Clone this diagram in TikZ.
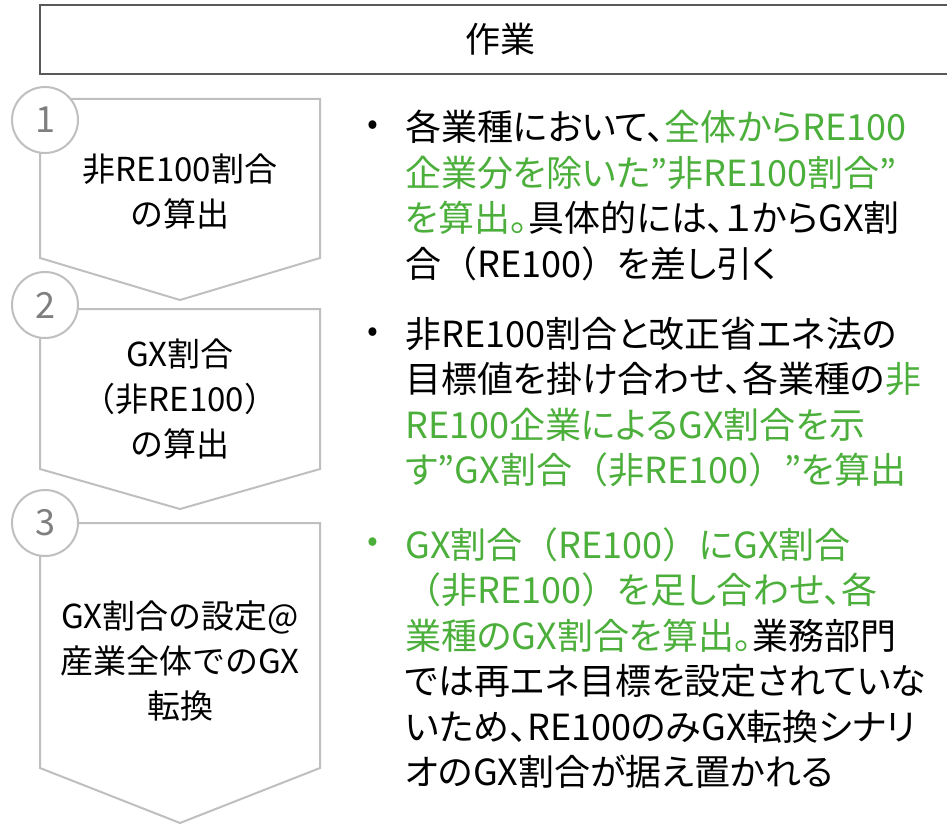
\documentclass[tikz,border=0pt]{standalone}
\usepackage{fontspec}
\setmainfont{Noto Sans CJK JP}
\newfontfamily\propfont{Noto Sans CJK JP}[RawFeature=+palt]
\newfontfamily\fwfont{Noto Sans CJK JP}
\newcommand{\zlp}{{\fwfont （}}
\newcommand{\zrp}{{\fwfont ）}}
\usetikzlibrary{positioning}
\definecolor{framegray}{RGB}{89,89,89}
\definecolor{chevgray}{RGB}{191,191,191}
\definecolor{numgray}{RGB}{127,127,127}
\definecolor{gxgreen}{RGB}{76,175,60}
\tikzset{
  hdrbox/.style={rectangle, draw=framegray, line width=2.5pt, minimum width=920pt,
                 minimum height=69pt, inner sep=0pt, font=\fontsize{35}{40}\selectfont},
  chevron/.style={draw=chevgray, line width=2pt, fill=white, line join=miter},
  stepnum/.style={circle, draw=chevgray, line width=2pt, fill=white, minimum size=66pt,
                  inner sep=0pt, text=numgray, font=\fontsize{36}{40}\selectfont},
  steptext/.style={align=center, inner sep=0pt, font=\fontsize{33}{45}\selectfont},
  desc/.style={align=left, anchor=north west, inner sep=0pt, font=\propfont\fontsize{36}{45.5}\selectfont},
  dot/.style={inner sep=0pt, font=\fontsize{32}{36}\selectfont},
}

\begin{document}
\begin{tikzpicture}[x=1pt, y=-1pt]
\useasboundingbox (0,0) rectangle (947,824);
\clip (0,0) rectangle (947,824);

% header
\node[hdrbox] (hdr) at (500,39.5) {作業};

% steps
\foreach \i/\top/\sh/\tip/\cy in {1/99/258/300/120, 2/309/469/509/305, 3/523/768/823/523} {
  \draw[chevron] (40,\top) -- (320,\top) -- (320,\sh) -- (180,\tip) -- (40,\sh) -- cycle;
  \node[stepnum] (n\i) at (45,\cy) {\i};
}
\node[steptext] (s1) at (180,192) {非RE100割合\\の算出};
\node[steptext] (s2) at (180,399) {GX割合\\（非RE100）\\の算出};
\node[steptext] (s3) at (180,661) {GX割合の設定@\\産業全体でのGX\\転換};

% descriptions
\node[dot] (d1) at (373,128) {•};
\node[desc] (b1) at (405,110) {各業種において、\textcolor{gxgreen}{全体からRE100}\\
  \textcolor{gxgreen}{企業分を除いた”非RE100割合”}\\
  \textcolor{gxgreen}{を算出。}具体的には、１からGX割\\
  合\zlp RE100\zrp を差し引く};

\node[dot] (d2) at (373,335) {•};
\node[desc] (b2) at (405,317) {非RE100割合と改正省エネ法の\\
  目標値を掛け合わせ、各業種の\textcolor{gxgreen}{非}\\
  \textcolor{gxgreen}{RE100企業によるGX割合を示}\\
  \textcolor{gxgreen}{す”GX割合\zlp 非RE100\zrp ”を算出}};

\node[dot, text=gxgreen] (d3) at (373,545) {•};
\node[desc] (b3) at (405,527) {\textcolor{gxgreen}{GX割合\zlp RE100\zrp にGX割合}\\
  \textcolor{gxgreen}{\zlp 非RE100\zrp を足し合わせ、各}\\
  \textcolor{gxgreen}{業種のGX割合を算出。}業務部門\\
  では再エネ目標を設定されていな\\
  いため、RE100のみGX転換シナリ\\
  オのGX割合が据え置かれる};
\end{tikzpicture}
\end{document}
